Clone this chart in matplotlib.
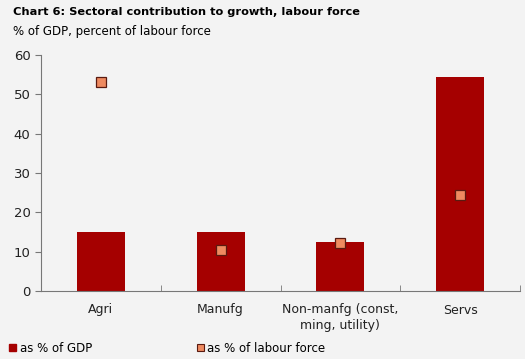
import numpy as np
import matplotlib.pyplot as plt
from matplotlib.patches import Patch

sectors = ['Agri', 'Manufg', 'Non-manfg (const,\nming, utility)', 'Servs']
gdp_share = [15.0, 15.0, 12.5, 54.4]
labour_share = [53.2, 10.3, 12.2, 24.4]

bg = '#f3f3f3'
bar_col = '#a50000'
mark_col = '#ee8a60'

fig = plt.figure(figsize=(5.25, 3.59), dpi=100, facecolor=bg)
ax = fig.add_axes([41 / 525, 1 - 291 / 359, 479 / 525, 236 / 359])
ax.set_facecolor(bg)

x = np.arange(len(sectors))
ax.bar(x, gdp_share, width=0.4, color=bar_col, zorder=2)
ax.plot(x, labour_share, 's', ms=7, mfc=mark_col, mec='#5a1a10', mew=0.9,
        ls='none', zorder=3)

ax.set_xlim(-0.5, len(sectors) - 0.5)
ax.set_ylim(0, 60)
ax.set_yticks(np.arange(0, 61, 10))
ax.set_xticks(x)
ax.set_xticklabels(sectors, fontsize=9, color='#222222')
ax.set_xticks(np.arange(-0.5, len(sectors)), minor=True)
ax.tick_params(axis='x', which='major', length=0, pad=9)
ax.tick_params(axis='x', which='minor', length=4, direction='in', color='#777777')
ax.tick_params(axis='y', length=4, color='#777777', labelsize=9.5, labelcolor='#222222')
for s in ['top', 'right']:
    ax.spines[s].set_visible(False)
for s in ['left', 'bottom']:
    ax.spines[s].set_color('#777777')
    ax.spines[s].set_linewidth(0.8)

fig.text(13 / 525, 1 - 12 / 359, 'Chart 6: Sectoral contribution to growth, labour force',
         fontsize=8.2, fontweight='bold', va='center')
fig.text(13 / 525, 1 - 32 / 359, '% of GDP, percent of labour force',
         fontsize=8.5, va='center')

handles = [Patch(facecolor=bar_col, edgecolor=bar_col),
           Patch(facecolor=mark_col, edgecolor='#5a1a10', linewidth=0.8)]
fig.legend(handles, ['as % of GDP', 'as % of labour force'], ncol=2,
           loc='center left', bbox_to_anchor=(3 / 525, 1 - 348 / 359),
           frameon=False, fontsize=8.5, handlelength=0.6, handleheight=0.6,
           handletextpad=0.3, columnspacing=8.9, borderpad=0)

fig.savefig('out.png', dpi=100, facecolor=bg)
